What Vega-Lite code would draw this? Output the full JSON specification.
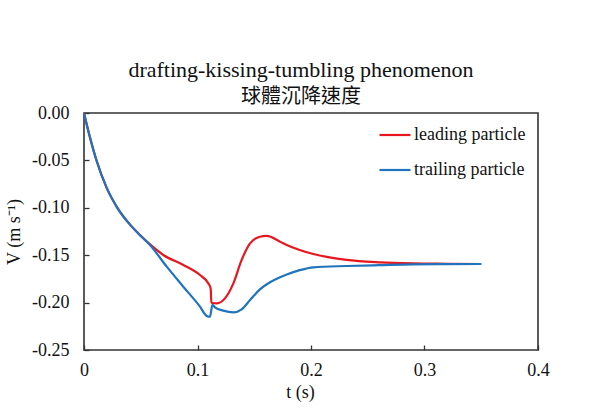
{
  "$schema": "https://vega.github.io/schema/vega-lite/v6.json",
  "width": 454,
  "height": 237,
  "autosize": {"type": "none"},
  "padding": {"left": 84, "top": 113, "right": 73, "bottom": 61},
  "background": "white",
  "title": {
    "text": "drafting-kissing-tumbling  phenomenon",
    "subtitle": "球體沉降速度",
    "font": "Liberation Serif",
    "fontSize": 22,
    "fontWeight": "normal",
    "color": "#111111",
    "subtitleFont": "Noto Sans CJK TC",
    "subtitleFontSize": 20,
    "subtitleColor": "#111111",
    "subtitlePadding": 5,
    "anchor": "middle",
    "dx": -10,
    "offset": -4
  },
  "config": {
    "view": {"stroke": "#333333", "strokeWidth": 1.6},
    "axis": {
      "grid": false,
      "domain": false,
      "ticks": true,
      "tickColor": "#333333",
      "tickWidth": 1.3,
      "tickSize": -5,
      "labelFlush": false,
      "labelFont": "Liberation Serif",
      "labelFontSize": 18,
      "labelColor": "#111111",
      "titleFont": "Liberation Serif",
      "titleFontSize": 18,
      "titleFontWeight": "normal",
      "titleColor": "#111111"
    },
    "legend": {
      "labelFont": "Liberation Serif",
      "labelFontSize": 18,
      "labelColor": "#111111"
    }
  },
  "data": {
    "values": [
      {"t": 0.0, "V": 0.0, "s": "leading particle"},
      {"t": 0.005, "V": -0.0245, "s": "leading particle"},
      {"t": 0.0109, "V": -0.0496, "s": "leading particle"},
      {"t": 0.02, "V": -0.079, "s": "leading particle"},
      {"t": 0.0294, "V": -0.1, "s": "leading particle"},
      {"t": 0.04, "V": -0.117, "s": "leading particle"},
      {"t": 0.05, "V": -0.1295, "s": "leading particle"},
      {"t": 0.06, "V": -0.1405, "s": "leading particle"},
      {"t": 0.0699, "V": -0.1498, "s": "leading particle"},
      {"t": 0.0875, "V": -0.1603, "s": "leading particle"},
      {"t": 0.1022, "V": -0.1709, "s": "leading particle"},
      {"t": 0.1095, "V": -0.1797, "s": "leading particle"},
      {"t": 0.1116, "V": -0.185, "s": "leading particle"},
      {"t": 0.1122, "V": -0.2001, "s": "leading particle"},
      {"t": 0.1169, "V": -0.2008, "s": "leading particle"},
      {"t": 0.1242, "V": -0.1955, "s": "leading particle"},
      {"t": 0.1316, "V": -0.1797, "s": "leading particle"},
      {"t": 0.1389, "V": -0.155, "s": "leading particle"},
      {"t": 0.1463, "V": -0.1375, "s": "leading particle"},
      {"t": 0.155, "V": -0.1305, "s": "leading particle"},
      {"t": 0.161, "V": -0.1297, "s": "leading particle"},
      {"t": 0.1727, "V": -0.1357, "s": "leading particle"},
      {"t": 0.1786, "V": -0.1392, "s": "leading particle"},
      {"t": 0.19, "V": -0.1445, "s": "leading particle"},
      {"t": 0.202, "V": -0.1487, "s": "leading particle"},
      {"t": 0.215, "V": -0.152, "s": "leading particle"},
      {"t": 0.2314, "V": -0.155, "s": "leading particle"},
      {"t": 0.2608, "V": -0.1575, "s": "leading particle"},
      {"t": 0.29, "V": -0.1586, "s": "leading particle"},
      {"t": 0.32, "V": -0.159, "s": "leading particle"},
      {"t": 0.35, "V": -0.1593, "s": "leading particle"},
      {"t": 0.0, "V": 0.0, "s": "trailing particle"},
      {"t": 0.005, "V": -0.0245, "s": "trailing particle"},
      {"t": 0.0109, "V": -0.0496, "s": "trailing particle"},
      {"t": 0.02, "V": -0.079, "s": "trailing particle"},
      {"t": 0.0294, "V": -0.1, "s": "trailing particle"},
      {"t": 0.04, "V": -0.117, "s": "trailing particle"},
      {"t": 0.05, "V": -0.1298, "s": "trailing particle"},
      {"t": 0.0581, "V": -0.1392, "s": "trailing particle"},
      {"t": 0.0729, "V": -0.1621, "s": "trailing particle"},
      {"t": 0.0875, "V": -0.1832, "s": "trailing particle"},
      {"t": 0.1022, "V": -0.2043, "s": "trailing particle"},
      {"t": 0.1081, "V": -0.2141, "s": "trailing particle"},
      {"t": 0.111, "V": -0.2149, "s": "trailing particle"},
      {"t": 0.1131, "V": -0.2025, "s": "trailing particle"},
      {"t": 0.1154, "V": -0.205, "s": "trailing particle"},
      {"t": 0.1227, "V": -0.2085, "s": "trailing particle"},
      {"t": 0.1316, "V": -0.2103, "s": "trailing particle"},
      {"t": 0.1389, "V": -0.2071, "s": "trailing particle"},
      {"t": 0.1463, "V": -0.1973, "s": "trailing particle"},
      {"t": 0.155, "V": -0.186, "s": "trailing particle"},
      {"t": 0.1639, "V": -0.1785, "s": "trailing particle"},
      {"t": 0.1727, "V": -0.1732, "s": "trailing particle"},
      {"t": 0.1786, "V": -0.1703, "s": "trailing particle"},
      {"t": 0.19, "V": -0.1658, "s": "trailing particle"},
      {"t": 0.202, "V": -0.1628, "s": "trailing particle"},
      {"t": 0.2314, "V": -0.1614, "s": "trailing particle"},
      {"t": 0.26, "V": -0.1605, "s": "trailing particle"},
      {"t": 0.29, "V": -0.1596, "s": "trailing particle"},
      {"t": 0.32, "V": -0.1594, "s": "trailing particle"},
      {"t": 0.35, "V": -0.1593, "s": "trailing particle"}
    ]
  },
  "mark": {"type": "line", "interpolate": "monotone", "strokeWidth": 2.2},
  "encoding": {
    "x": {
      "field": "t",
      "type": "quantitative",
      "scale": {"domain": [0, 0.4], "nice": false, "zero": false},
      "axis": {
        "values": [0, 0.1, 0.2, 0.3, 0.4],
        "format": "~g",
        "labelPadding": 16,
        "title": "t (s)",
        "titleX": 216,
        "titleY": 42,
        "titleBaseline": "middle"
      }
    },
    "y": {
      "field": "V",
      "type": "quantitative",
      "scale": {"domain": [-0.25, 0], "nice": false, "zero": false},
      "axis": {
        "values": [-0.25, -0.2, -0.15, -0.1, -0.05, 0],
        "labelExpr": "replace(format(datum.value, '.2f'), '−', '-')",
        "labelPadding": 20,
        "title": "V (m s⁻¹)",
        "titlePadding": 8
      }
    },
    "color": {
      "field": "s",
      "type": "nominal",
      "scale": {"domain": ["leading particle", "trailing particle"], "range": ["#e8161e", "#1f74bd"]},
      "legend": {
        "title": null,
        "orient": "none",
        "legendX": 294,
        "legendY": 5,
        "symbolType": "stroke",
        "symbolSize": 961,
        "symbolStrokeWidth": 2.2,
        "labelOffset": 2,
        "rowPadding": 9,
        "padding": 0
      }
    }
  }
}
